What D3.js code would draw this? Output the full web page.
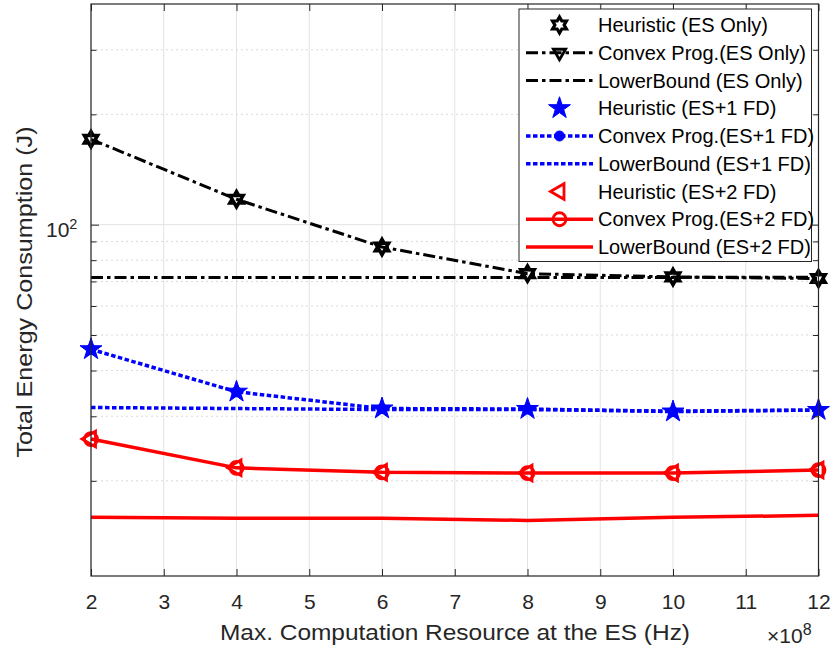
<!DOCTYPE html>
<html><head><meta charset="utf-8">
<script src="https://cdn.jsdelivr.net/npm/d3@7"></script>
<style>
body{margin:0;background:#fff}
svg{display:block;font-family:"Liberation Sans",Arial,Helvetica,sans-serif}
</style>
</head><body>
<svg id="chart" width="834" height="652"></svg>
<script>
// Max. computation resource at the ES (x 10^8 Hz)
const xValues = [2, 4, 6, 8, 10, 12];
// Total energy consumption (J)
const heurEsOnly   = [171, 117.3, 86.9, 73.5, 72.0, 71.3];
const convexEsOnly = [171, 117.3, 86.9, 73.5, 72.0, 71.3];
const lowerEsOnly  = [71.7, 71.7, 71.8, 71.8, 71.8, 71.9];
const heurFd1      = [45.7, 35.0, 31.5, 31.4, 30.9, 31.2];
const convexFd1    = [45.7, 35.0, 31.5, 31.4, 30.9, 31.2];
const lowerFd1     = [31.7, 31.5, 31.3, 31.3, 31.0, 31.2];
const heurFd2      = [26.0, 21.7, 21.1, 21.0, 21.0, 21.4];
const convexFd2    = [26.0, 21.7, 21.1, 21.0, 21.0, 21.4];
const lowerFd2     = [15.9, 15.8, 15.8, 15.6, 15.9, 16.1];

const xTicks = [2, 3, 4, 5, 6, 7, 8, 9, 10, 11, 12];
const yMajorTicks = [100];
const yMinorTicks = [20, 30, 40, 50, 60, 70, 80, 90, 200, 300];
const yDomain = [11, 400];

const legendLabels = [
  "Heuristic (ES Only)", "Convex Prog.(ES Only)", "LowerBound (ES Only)",
  "Heuristic (ES+1 FD)", "Convex Prog.(ES+1 FD)", "LowerBound (ES+1 FD)",
  "Heuristic (ES+2 FD)", "Convex Prog.(ES+2 FD)", "LowerBound (ES+2 FD)"
];

const svg = d3.select("#chart");
const L = 91, R = 818.5, T = 4, B = 576;
const axisColor = "#262626";

const x = d3.scaleLinear().domain([2, 12]).range([L, R]);
const y = d3.scaleLog().domain(yDomain).range([B, T]);

// marker shapes
function starPath(n, rOut, rIn) {
  const pts = [];
  for (let i = 0; i < 2 * n; i++) {
    const a = -Math.PI / 2 + i * Math.PI / n;
    const r = i % 2 === 0 ? rOut : rIn;
    pts.push([r * Math.cos(a), r * Math.sin(a)]);
  }
  return "M" + pts.map(p => p[0].toFixed(2) + "," + p[1].toFixed(2)).join("L") + "Z";
}
const shapes = {
  hexagram: s => starPath(6, s, s / Math.sqrt(3)),
  pentagram: s => starPath(5, s, s * 0.382),
  triDown: s => `M0,${s}L${-0.87 * s},${-0.5 * s}L${0.87 * s},${-0.5 * s}Z`,
  triLeft: s => `M${-s},0L${0.5 * s},${-0.87 * s}L${0.5 * s},${0.87 * s}Z`,
  circle: s => `M${s},0A${s},${s} 0 1,1 ${-s},0A${s},${s} 0 1,1 ${s},0Z`
};

const BLACK = "#000000", BLUE = "#0000ff", RED = "#ff0000";
const dashDot = "12,4,3.5,4", dotted = "4.5,2.5";

const series = [
  { values: heurEsOnly, color: BLACK, line: false, marker: "hexagram", size: 8, fill: "none", mw: 3.2 },
  { values: convexEsOnly, color: BLACK, line: true, dash: dashDot, lw: 3, marker: "triDown", size: 7, fill: "none", mw: 2.8 },
  { values: lowerEsOnly, color: BLACK, line: true, dash: dashDot, lw: 3, marker: null },
  { values: heurFd1, color: BLUE, line: false, marker: "pentagram", size: 11.5, fill: BLUE, mw: 1 },
  { values: convexFd1, color: BLUE, line: true, dash: dotted, lw: 3.5, marker: "circle", size: 5, fill: BLUE, mw: 1 },
  { values: lowerFd1, color: BLUE, line: true, dash: dotted, lw: 3.5, marker: null },
  { values: heurFd2, color: RED, line: false, marker: "triLeft", size: 9, fill: "none", mw: 2.8 },
  { values: convexFd2, color: RED, line: true, dash: null, lw: 3.5, marker: "circle", size: 6.5, fill: "none", mw: 2.8 },
  { values: lowerFd2, color: RED, line: true, dash: null, lw: 3.5, marker: null }
];

// background
svg.append("rect").attr("width", 834).attr("height", 652).attr("fill", "#fff");

// grid
const grid = svg.append("g");
grid.selectAll(".gx").data(xTicks).join("line")
  .attr("x1", d => x(d)).attr("x2", d => x(d)).attr("y1", T).attr("y2", B)
  .attr("stroke", "#e3e3e3").attr("stroke-width", 1);
grid.selectAll(".gym").data(yMinorTicks).join("line")
  .attr("x1", L).attr("x2", R).attr("y1", d => y(d)).attr("y2", d => y(d))
  .attr("stroke", "#dadada").attr("stroke-width", 1).attr("stroke-dasharray", "2,3");
grid.selectAll(".gyM").data(yMajorTicks).join("line")
  .attr("x1", L).attr("x2", R).attr("y1", d => y(d)).attr("y2", d => y(d))
  .attr("stroke", "#e3e3e3").attr("stroke-width", 1);

// data
const lineGen = d3.line().x(d => x(d[0])).y(d => y(d[1]));
const plot = svg.append("g");
series.forEach(s => {
  const pts = xValues.map((xv, i) => [xv, s.values[i]]);
  if (s.line) {
    plot.append("path").attr("d", lineGen(pts)).attr("fill", "none")
      .attr("stroke", s.color).attr("stroke-width", s.lw)
      .attr("stroke-dasharray", s.dash).attr("stroke-linejoin", "round");
  }
  if (s.marker) {
    plot.selectAll(null).data(pts).join("path")
      .attr("transform", d => `translate(${x(d[0])},${y(d[1])})`)
      .attr("d", shapes[s.marker](s.size))
      .attr("fill", s.fill).attr("stroke", s.color)
      .attr("stroke-width", s.mw).attr("stroke-linejoin", "miter");
  }
});

// axes (ticks point inward, box closed)
function styleAxis(g) {
  g.select(".domain").remove();
  g.selectAll(".tick line").attr("stroke", axisColor).attr("stroke-width", 1);
  g.selectAll(".tick text").attr("fill", axisColor).attr("font-size", 21)
    .attr("font-family", '"Liberation Sans",Arial,sans-serif');
}
svg.append("g").attr("transform", `translate(0,${B})`)
  .call(d3.axisBottom(x).tickValues(xTicks).tickSize(-7).tickPadding(18).tickFormat(d3.format("d")))
  .call(styleAxis);
svg.append("g").attr("transform", `translate(0,${T})`)
  .call(d3.axisTop(x).tickValues(xTicks).tickSize(-7).tickFormat(""))
  .call(styleAxis);
svg.append("g").attr("transform", `translate(${L},0)`)
  .call(d3.axisLeft(y).tickValues(yMinorTicks).tickSize(-5.5).tickFormat(""))
  .call(styleAxis);
svg.append("g").attr("transform", `translate(${L},0)`)
  .call(d3.axisLeft(y).tickValues(yMajorTicks).tickSize(-8).tickFormat(""))
  .call(styleAxis);
svg.append("g").attr("transform", `translate(${R},0)`)
  .call(d3.axisRight(y).tickValues(yMinorTicks).tickSize(-5.5).tickFormat(""))
  .call(styleAxis);
svg.append("g").attr("transform", `translate(${R},0)`)
  .call(d3.axisRight(y).tickValues(yMajorTicks).tickSize(-8).tickFormat(""))
  .call(styleAxis);

svg.append("rect").attr("x", L).attr("y", T).attr("width", R - L).attr("height", B - T)
  .attr("fill", "none").attr("stroke", axisColor).attr("stroke-width", 1.2);

// y tick label 10^2
yMajorTicks.forEach(v => {
  const t = svg.append("text").attr("x", 46).attr("y", y(v) + 12.5)
    .attr("fill", axisColor).attr("font-size", 21);
  t.append("tspan").text("10");
  t.append("tspan").attr("font-size", 14.5).attr("dy", -8.5).text(Math.round(Math.log10(v)));
});

// exponent label
const ex = svg.append("text").attr("x", 767).attr("y", 643).attr("fill", axisColor).attr("font-size", 21);
ex.append("tspan").text("×10");
ex.append("tspan").attr("font-size", 16).attr("dy", -8.5).text("8");

// axis titles
svg.append("text").attr("x", 455).attr("y", 640).attr("text-anchor", "middle")
  .attr("fill", axisColor).attr("font-size", 22)
  .attr("textLength", 470).attr("lengthAdjust", "spacingAndGlyphs")
  .text("Max. Computation Resource at the ES (Hz)");
svg.append("text").attr("transform", "translate(32,292) rotate(-90)").attr("text-anchor", "middle")
  .attr("fill", axisColor).attr("font-size", 22)
  .attr("textLength", 331).attr("lengthAdjust", "spacingAndGlyphs")
  .text("Total Energy Consumption (J)");

// legend
const lg = svg.append("g");
lg.append("rect").attr("x", 519).attr("y", 9).attr("width", 292.5).attr("height", 252.5)
  .attr("fill", "#fff").attr("stroke", axisColor).attr("stroke-width", 1);
const rowY = i => 25 + i * 27.75;
series.forEach((s, i) => {
  const cy = rowY(i);
  if (s.line) {
    lg.append("line").attr("x1", 526).attr("x2", 593).attr("y1", cy).attr("y2", cy)
      .attr("stroke", s.color).attr("stroke-width", s.lw).attr("stroke-dasharray", s.dash);
  }
  if (s.marker) {
    lg.append("path").attr("transform", `translate(559.5,${cy})`)
      .attr("d", shapes[s.marker](s.size))
      .attr("fill", s.fill).attr("stroke", s.color).attr("stroke-width", s.mw);
  }
  lg.append("text").attr("x", 598).attr("y", cy + 7).attr("font-size", 20)
    .attr("fill", "#000").text(legendLabels[i]);
});
</script>
</body></html>
